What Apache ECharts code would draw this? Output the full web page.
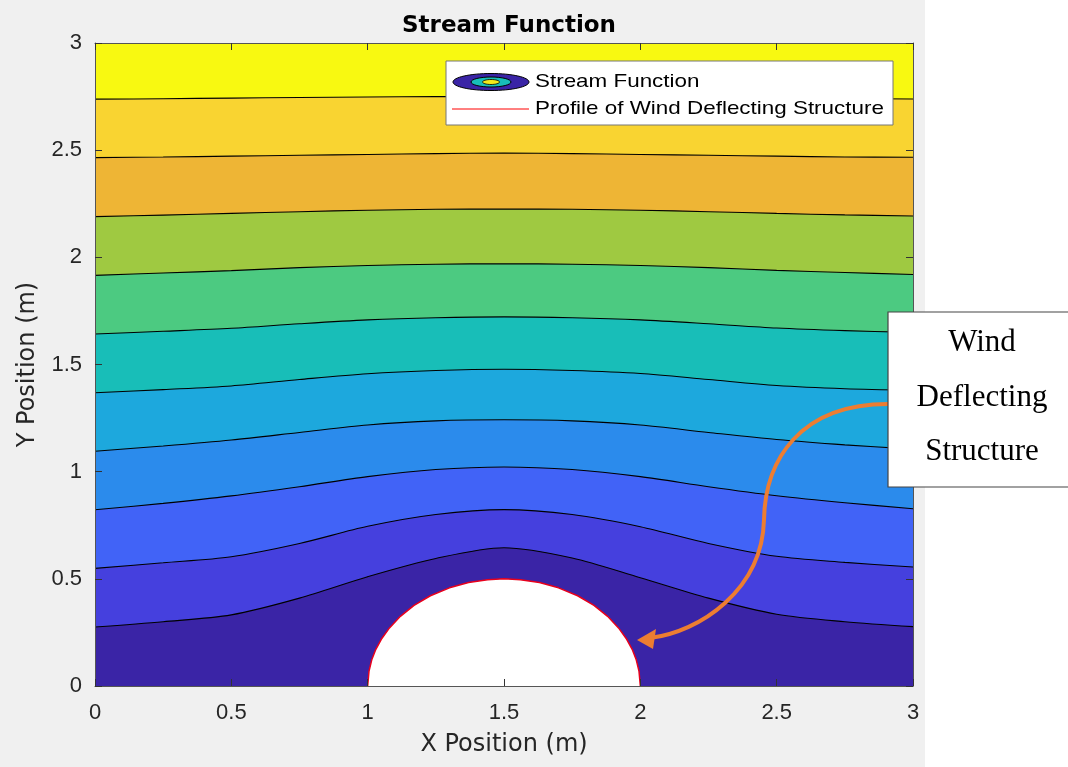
<!DOCTYPE html>
<html>
<head>
<meta charset="utf-8">
<script src="https://cdn.jsdelivr.net/npm/echarts@6/dist/echarts.min.js"></script>
<style>
html,body{margin:0;padding:0;background:#ffffff;}
#chart{width:1068px;height:767px;background:linear-gradient(to right,#f0f0f0 0px,#f0f0f0 925px,#ffffff 925px);}
</style>
</head>
<body>
<div id="chart"></div>
<script>
// ---- data ----
const xPositions = [0, 0.25, 0.5, 0.75, 1, 1.25, 1.5, 1.75, 2, 2.25, 2.5, 2.75, 3];

// contour lines, top to bottom (y in m at each xPosition)
const contour1  = [2.738, 2.740, 2.743, 2.746, 2.748, 2.750, 2.750, 2.750, 2.748, 2.746, 2.743, 2.741, 2.739];
const contour2  = [2.465, 2.468, 2.472, 2.476, 2.480, 2.484, 2.486, 2.484, 2.480, 2.476, 2.472, 2.468, 2.467];
const contour3  = [2.190, 2.197, 2.205, 2.213, 2.220, 2.224, 2.225, 2.224, 2.220, 2.213, 2.205, 2.198, 2.193];
const contour4  = [1.916, 1.927, 1.938, 1.952, 1.962, 1.968, 1.970, 1.968, 1.962, 1.952, 1.939, 1.929, 1.920];
const contour5  = [1.642, 1.655, 1.669, 1.690, 1.708, 1.718, 1.722, 1.718, 1.708, 1.690, 1.670, 1.658, 1.650];
const contour6  = [1.368, 1.383, 1.400, 1.430, 1.457, 1.472, 1.478, 1.472, 1.458, 1.430, 1.402, 1.387, 1.380];
const contour7  = [1.095, 1.120, 1.148, 1.183, 1.218, 1.237, 1.242, 1.237, 1.218, 1.183, 1.150, 1.125, 1.105];
const contour8  = [0.822, 0.852, 0.887, 0.930, 0.977, 1.010, 1.022, 1.010, 0.977, 0.930, 0.888, 0.855, 0.827];
const contour9  = [0.549, 0.575, 0.603, 0.665, 0.745, 0.800, 0.823, 0.800, 0.743, 0.665, 0.605, 0.577, 0.555];
const contour10 = [0.275, 0.300, 0.332, 0.410, 0.510, 0.595, 0.645, 0.597, 0.505, 0.410, 0.335, 0.300, 0.277];

// band colours (parula), bottom band to top band
const bandColors = ['#3a24a6', '#4540de', '#4163f7', '#2b8bec', '#1da8dd', '#18beb8',
                    '#4cca81', '#9fc941', '#eeb535', '#f9d431', '#f8f911'];

// profile of the wind deflecting structure
const profileX = [1.000, 1.005, 1.015, 1.030, 1.050, 1.080, 1.120, 1.170, 1.230, 1.300, 1.370, 1.440, 1.500,
                  1.560, 1.630, 1.700, 1.770, 1.830, 1.880, 1.920, 1.950, 1.970, 1.985, 1.995, 2.000];
const profileY = [0.000, 0.070, 0.122, 0.171, 0.218, 0.271, 0.325, 0.376, 0.421, 0.458, 0.483, 0.496, 0.500,
                  0.496, 0.483, 0.458, 0.421, 0.376, 0.325, 0.271, 0.218, 0.171, 0.122, 0.070, 0.000];

const titleText = 'Stream Function';
const xName = 'X Position (m)';
const yName = 'Y Position (m)';
const legendNames = ['Stream Function', 'Profile of Wind Deflecting Structure'];
const noteLines = ['Wind', 'Deflecting', 'Structure'];

// ---- chart ----
const contours = [contour1, contour2, contour3, contour4, contour5, contour6, contour7, contour8, contour9, contour10];
const chart = echarts.init(document.getElementById('chart'));

const series = contours.map((line, k) => ({
  type: 'line',
  name: 'c' + (k + 1),
  data: xPositions.map((x, j) => [x, line[j]]),
  smooth: 0.3,
  symbol: 'none',
  silent: true,
  lineStyle: { color: '#000000', width: 1.1 },
  areaStyle: { color: bandColors[9 - k], opacity: 1, origin: 'start' },
  z: 2
}));
series.push({
  type: 'line',
  name: 'profile',
  data: profileX.map((x, j) => [x, profileY[j]]),
  smooth: false,
  symbol: 'none',
  silent: true,
  lineStyle: { color: '#e8001c', width: 1.5 },
  areaStyle: { color: '#ffffff', opacity: 1, origin: 'start' },
  z: 3
});

const axisCommon = {
  type: 'value', min: 0, max: 3, interval: 0.5,
  splitLine: { show: false },
  axisLine: { show: true, onZero: false, lineStyle: { color: '#555555', width: 1 } },
  axisTick: { show: true, inside: true, length: 7, lineStyle: { color: '#333333', width: 1 } },
  z: 10
};
const labelStyle = { fontFamily: 'Liberation Sans', fontSize: 22, color: '#262626' };
const nameStyle = { fontFamily: 'DejaVu Sans', fontSize: 24, color: '#262626' };

const option = {
  animation: false,
  title: {
    text: titleText, left: 504, top: 10, textAlign: 'center',
    textStyle: { fontFamily: 'DejaVu Sans', fontSize: 23, fontWeight: 'bold', color: '#000000' }
  },
  grid: { left: 95, right: 155, top: 43, bottom: 81, show: true, backgroundColor: bandColors[10], borderWidth: 0 },
  xAxis: [
    Object.assign({}, axisCommon, {
      position: 'bottom',
      axisLabel: Object.assign({ margin: 16 }, labelStyle),
      name: xName, nameLocation: 'middle', nameGap: 47, nameTextStyle: nameStyle
    }),
    Object.assign({}, axisCommon, { position: 'top', axisLabel: { show: false } })
  ],
  yAxis: [
    Object.assign({}, axisCommon, {
      position: 'left',
      axisLabel: Object.assign({ margin: 13 }, labelStyle),
      name: yName, nameLocation: 'middle', nameGap: 55, nameRotate: 90, nameTextStyle: nameStyle
    }),
    Object.assign({}, axisCommon, { position: 'right', axisLabel: { show: false } })
  ],
  series: series,
  graphic: [
    // legend box
    { type: 'rect', z: 100, shape: { x: 446, y: 61, width: 447, height: 64 },
      style: { fill: '#ffffff', stroke: '#777777', lineWidth: 1 } },
    { type: 'ellipse', z: 101, shape: { cx: 491, cy: 82, rx: 38, ry: 8.5 },
      style: { fill: bandColors[0], stroke: '#000000', lineWidth: 1 } },
    { type: 'ellipse', z: 102, shape: { cx: 491, cy: 82, rx: 20, ry: 5 },
      style: { fill: bandColors[5], stroke: '#000000', lineWidth: 1 } },
    { type: 'ellipse', z: 103, shape: { cx: 491, cy: 82, rx: 8.5, ry: 2.5 },
      style: { fill: '#f3ea1c', stroke: '#000000', lineWidth: 0.8 } },
    { type: 'text', z: 101, x: 535, y: 82, scaleX: 1.18,
      style: { text: legendNames[0], fontFamily: 'Liberation Sans', fontSize: 19, fill: '#000000',
               textAlign: 'left', textVerticalAlign: 'middle' } },
    { type: 'line', z: 101, shape: { x1: 452, y1: 109, x2: 529, y2: 109 },
      style: { stroke: '#ff0000', lineWidth: 1 } },
    { type: 'text', z: 101, x: 535, y: 109, scaleX: 1.18,
      style: { text: legendNames[1], fontFamily: 'Liberation Sans', fontSize: 19, fill: '#000000',
               textAlign: 'left', textVerticalAlign: 'middle' } },
    // annotation box
    { type: 'rect', z: 120, shape: { x: 888, y: 312, width: 220, height: 175 },
      style: { fill: '#ffffff', stroke: '#444444', lineWidth: 1.2 } },
    { type: 'text', z: 121, x: 982, y: 343,
      style: { text: noteLines[0], fontFamily: 'Liberation Serif', fontSize: 31, fill: '#000000',
               textAlign: 'center', textVerticalAlign: 'middle' } },
    { type: 'text', z: 121, x: 982, y: 398,
      style: { text: noteLines[1], fontFamily: 'Liberation Serif', fontSize: 31, fill: '#000000',
               textAlign: 'center', textVerticalAlign: 'middle' } },
    { type: 'text', z: 121, x: 982, y: 452,
      style: { text: noteLines[2], fontFamily: 'Liberation Serif', fontSize: 31, fill: '#000000',
               textAlign: 'center', textVerticalAlign: 'middle' } },
    // curved arrow
    { type: 'bezierCurve', z: 110,
      shape: { x1: 888, y1: 404, cpx1: 800, cpy1: 404, cpx2: 765, cpy2: 460, x2: 764, y2: 520 },
      style: { stroke: '#ed7d31', lineWidth: 4, fill: null } },
    { type: 'bezierCurve', z: 110,
      shape: { x1: 764, y1: 520, cpx1: 762, cpy1: 590, cpx2: 700, cpy2: 632, x2: 650, y2: 638 },
      style: { stroke: '#ed7d31', lineWidth: 4, fill: null } },
    { type: 'polygon', z: 111, shape: { points: [[637, 640], [656, 629], [653, 649]] },
      style: { fill: '#ed7d31' } }
  ]
};
chart.setOption(option);
</script>
</body>
</html>
